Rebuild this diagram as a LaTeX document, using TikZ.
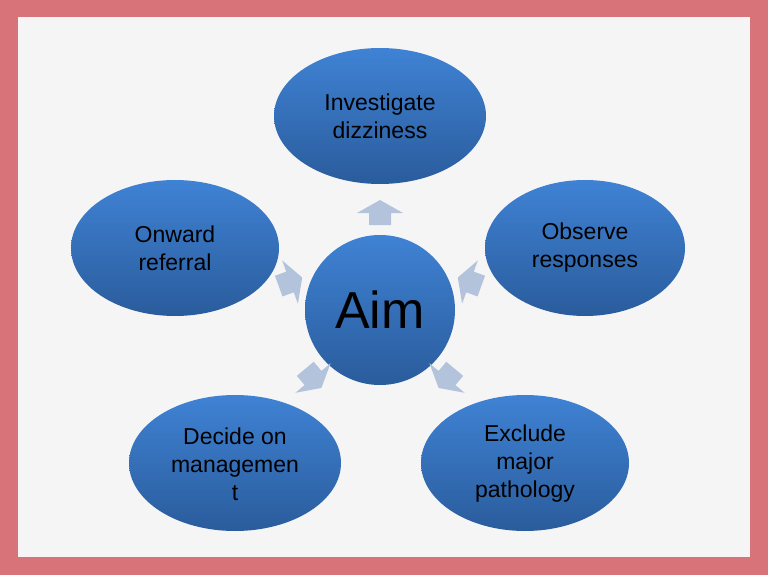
\documentclass[tikz,border=0pt]{standalone}
\usepackage{fontspec}
\setmainfont{Liberation Sans}
\usetikzlibrary{shapes.geometric}
\definecolor{frame}{HTML}{D9737A}
\definecolor{bg}{HTML}{F5F5F5}
\definecolor{btop}{HTML}{3F82D4}
\definecolor{bbot}{HTML}{2A5C9C}
\definecolor{arr}{HTML}{B3C3DC}
\tikzset{
  bub/.style={ellipse, minimum width=#1, minimum height=136pt, top color=btop, bottom color=bbot, draw=none, inner sep=0pt},
  lbl/.style={align=center, font=\fontsize{23}{28}\selectfont, text=black},
  blk/.style={fill=arr, draw=none}
}
\begin{document}
\begin{tikzpicture}[x=1pt,y=-1pt]
\fill[frame] (0,0) rectangle (768,575);
\fill[bg] (18,17) rectangle (750,557);
\useasboundingbox (0,0) rectangle (768,575);
\node[bub=212pt] (top) at (380,116) {};
\node[bub=208pt] (lt) at (175,248) {};
\node[bub=200pt] (rt) at (585,248) {};
\node[bub=212pt] (lb) at (235,463) {};
\node[bub=208pt] (rb) at (525,463) {};
\node[circle, minimum size=150pt, top color=btop, bottom color=bbot, inner sep=0pt] (aim) at (380,310) {};
\node[lbl, font=\fontsize{52}{56}\selectfont] (aimt) at (380,310) {Aim};
\node[lbl] (topt) at (380,116) {Investigate\\dizziness};
\node[lbl] (ltt) at (175,248) {Onward\\referral};
\node[lbl] (rtt) at (585,248) {Observe\\responses};
\node[lbl] (lbt) at (235,464) {Decide on\\managemen\\t};
\node[lbl] (rbt) at (525,464) {Exclude\\major\\pathology};
\foreach \n/\x/\y/\r in {a1/380/213/0, a2/290/282/-70, a3/470/282/70, a4/313/378/-140, a5/447/378/140}{
  \begin{scope}[shift={(\x,\y)}, rotate=\r]
    \fill[blk] (-11,12) -- (-11,0) -- (-23,0) -- (0,-13) -- (23,0) -- (11,0) -- (11,12) -- cycle;
  \end{scope}
}
\end{tikzpicture}
\end{document}
